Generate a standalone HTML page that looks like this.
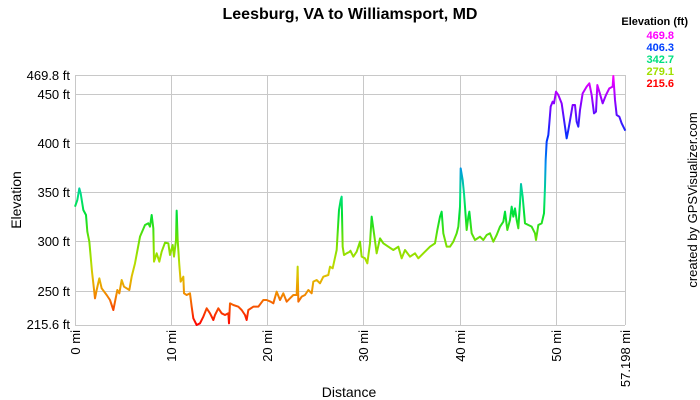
<!DOCTYPE html>
<html><head><style>body{margin:0;background:#fff}svg{display:block}</style></head><body>
<svg width="700" height="400" xmlns="http://www.w3.org/2000/svg" font-family="Liberation Sans, Arial, sans-serif">
<defs>
<linearGradient id="g" gradientUnits="userSpaceOnUse" x1="0" y1="45" x2="0" y2="796">
<stop offset="0" stop-color="#ff00ff"/>
<stop offset="0.12" stop-color="#8000ff"/>
<stop offset="0.25" stop-color="#0030ff"/>
<stop offset="0.36" stop-color="#0090f0"/>
<stop offset="0.48" stop-color="#00e080"/>
<stop offset="0.56" stop-color="#00e030"/>
<stop offset="0.66" stop-color="#70e000"/>
<stop offset="0.75" stop-color="#b0e000"/>
<stop offset="0.8" stop-color="#e0c000"/>
<stop offset="0.87" stop-color="#f09000"/>
<stop offset="1" stop-color="#ff0000"/>
</linearGradient>
</defs>
<text x="350" y="19" text-anchor="middle" font-size="16" font-weight="bold">Leesburg, VA to Williamsport, MD</text>
<g font-size="11" font-weight="bold" text-anchor="end">
<text x="688" y="25">Elevation (ft)</text>
<text x="674" y="39" fill="#ff00ff">469.8</text>
<text x="674" y="51" fill="#0040ff">406.3</text>
<text x="674" y="63" fill="#00e080">342.7</text>
<text x="674" y="75" fill="#a0e000">279.1</text>
<text x="674" y="87" fill="#ff0000">215.6</text>
</g>
<g stroke="#c8c8c8" stroke-width="1">
<line x1="75" y1="75.5" x2="625" y2="75.5"/>
<line x1="75" y1="94.5" x2="625" y2="94.5"/>
<line x1="75" y1="143.5" x2="625" y2="143.5"/>
<line x1="75" y1="192.5" x2="625" y2="192.5"/>
<line x1="75" y1="241.5" x2="625" y2="241.5"/>
<line x1="75" y1="291.5" x2="625" y2="291.5"/>
<line x1="75" y1="325.5" x2="625" y2="325.5"/>
<line x1="75.5" y1="75" x2="75.5" y2="325"/>
<line x1="171.5" y1="75" x2="171.5" y2="325"/>
<line x1="267.5" y1="75" x2="267.5" y2="325"/>
<line x1="363.5" y1="75" x2="363.5" y2="325"/>
<line x1="460.5" y1="75" x2="460.5" y2="325"/>
<line x1="556.5" y1="75" x2="556.5" y2="325"/>
<line x1="625.5" y1="75" x2="625.5" y2="325"/>
</g>
<g font-size="13" text-anchor="end">
<text x="70" y="80">469.8 ft</text>
<text x="70" y="99">450 ft</text>
<text x="70" y="148">400 ft</text>
<text x="70" y="197">350 ft</text>
<text x="70" y="246">300 ft</text>
<text x="70" y="296">250 ft</text>
<text x="70" y="329">215.6 ft</text>
</g>
<g font-size="13" text-anchor="end">
<text transform="translate(80,330) rotate(-90)">0 mi</text>
<text transform="translate(176,330) rotate(-90)">10 mi</text>
<text transform="translate(272,330) rotate(-90)">20 mi</text>
<text transform="translate(368,330) rotate(-90)">30 mi</text>
<text transform="translate(465,330) rotate(-90)">40 mi</text>
<text transform="translate(561,330) rotate(-90)">50 mi</text>
<text transform="translate(630,330) rotate(-90)">57.198 mi</text>
</g>
<text transform="translate(21,200) rotate(-90)" font-size="14" text-anchor="middle">Elevation</text>
<text x="349" y="397" font-size="14" text-anchor="middle">Distance</text>
<text transform="translate(697,200) rotate(-90)" font-size="13" text-anchor="middle">created by GPSVisualizer.com</text>
<g transform="translate(0,60) scale(0.33333)" fill="none" stroke="url(#g)" stroke-width="6" stroke-linejoin="round">
<polyline points="225,440 232,420 238,385 242,400 250,450 258,465 262,515 268,545 272,590 276,635 280,670 285,715 290,690 298,655 305,685 320,705 330,720 340,750 345,725 352,690 358,700 365,660 372,680 380,685 388,690 395,650 405,610 420,530 435,495 445,490 450,500 455,465 460,505 462,605 470,580 478,605 485,575 495,548 505,550 510,585 518,555 522,590 528,540 530,452 533,540 538,615 542,665 550,650 552,700 560,705 570,700 575,740 580,775 590,795 600,790 610,770 620,745 630,760 640,780 645,765 655,745 665,760 675,765 685,760 687,790 690,730 700,735 715,740 725,750 735,765 740,780 745,750 760,740 775,740 790,720 800,720 812,725 820,730 830,695 840,720 850,700 860,725 870,715 880,705 890,705 893,620 895,725 905,710 915,705 925,690 935,700 940,665 950,660 960,670 970,650 985,645 990,620 998,625 1010,570 1017,450 1022,420 1025,410 1028,560 1032,585 1040,580 1050,575"/>
</g>
<g transform="translate(350,60) scale(0.33333)" fill="none" stroke="url(#g)" stroke-width="6" stroke-linejoin="round">
<polyline points="0,570 10,590 20,575 30,545 35,590 45,595 52,610 60,550 65,470 72,520 80,580 90,535 100,550 115,560 130,570 145,560 155,595 165,570 180,590 195,580 205,595 220,580 240,560 255,550 262,510 270,470 275,455 280,520 290,560 300,560 310,545 320,520 325,500 330,440 332,325 338,360 342,400 345,440 350,510 355,470 358,455 365,520 375,540 390,530 400,540 410,525 420,520 430,545 440,525 450,500 460,485 465,455 472,510 480,480 485,440 490,470 495,445 500,480 505,505 510,430 513,372 518,410 525,490 535,495 545,500 555,520 558,540 565,495 575,490 582,460 585,380 587,300 590,245 595,225 598,190 602,140 608,125 612,130 618,95 625,105 635,130 645,200 650,235 655,210 662,170 668,135 675,135 680,185 685,200 690,150 698,100 710,80 718,70 725,105 732,160 738,155 742,75 748,95 758,130 768,105 778,85 788,80 790,48 795,120 800,165 808,170 815,190 826,212"/>
</g>
</svg>
</body></html>
